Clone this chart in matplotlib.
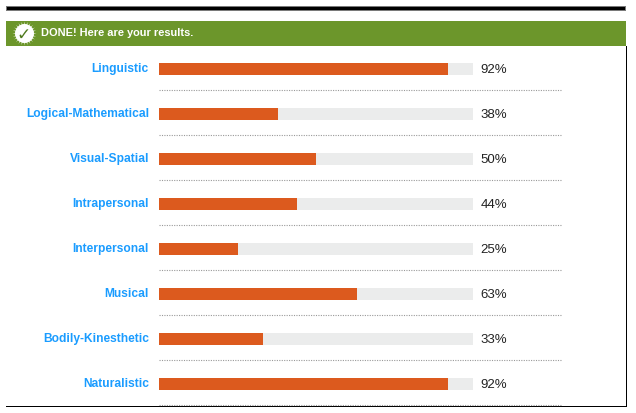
#!/usr/bin/env python3
import matplotlib
matplotlib.use('Agg')  # Use non-interactive backend
import matplotlib.pyplot as plt
from matplotlib.patches import Rectangle

categories = ['Linguistic', 'Logical-Mathematical', 'Visual-Spatial', 'Intrapersonal',
              'Interpersonal', 'Musical', 'Bodily-Kinesthetic', 'Naturalistic']
scores = [92, 38, 50, 44, 25, 63, 33, 92]
title = 'DONE! Here are your results.'

W, H = 636, 414
plt.rcParams['font.family'] = ['Liberation Sans', 'DejaVu Sans']


def px(size):
    # font size given in screen pixels
    return size * 72 / 100


def box(fig, x0, y0, x1, y1, color, **kw):
    # rectangle in picture pixels, y going down
    fig.add_artist(Rectangle((x0 / W, 1 - y1 / H), (x1 - x0) / W, (y1 - y0) / H,
                             transform=fig.transFigure, facecolor=color,
                             edgecolor='none', **kw))


fig = plt.figure(figsize=(W / 100, H / 100), dpi=100, facecolor='white')

# page frame
box(fig, 6, 7, 626, 12, '#7a7a7a')
box(fig, 7, 8, 625, 11, '#000000')
box(fig, 6, 22, 626, 47, '#6c962b')
box(fig, 625.5, 47, 627, 408, '#000000')
box(fig, 6, 406.5, 627, 408, '#000000')

# header badge and title
fig.text(41 / W, 1 - 33 / H, title, color='white', fontsize=px(11), fontweight='bold',
         va='center', ha='left', zorder=5)
badge = fig.add_axes([0, 0, 1, 1], facecolor='none', zorder=5)
badge.set_xlim(0, W)
badge.set_ylim(H, 0)
badge.axis('off')
badge.scatter([23.5], [34], s=px(24) ** 2, marker=(24, 1, 0), color='white', linewidths=0)
badge.scatter([23.5], [34], s=px(19) ** 2, marker='o', color='white', linewidths=0)
badge.text(23.5, 34.5, '\u2713', color='#4f7a1e', fontsize=px(17), fontweight='bold',
           family='DejaVu Sans', ha='center', va='center')

# bars
ax = fig.add_axes([159 / W, 1 - 407.5 / H, 314 / W, 360 / H], facecolor='none', zorder=6)
rows = list(range(len(categories)))
ax.barh(rows, [100] * len(rows), height=12 / 45, color='#ebecec', linewidth=0)
ax.barh(rows, scores, height=12 / 45, color='#dc5a1e', linewidth=0)
ax.set_xlim(0, 100)
ax.set_ylim(7.5, -0.5)
ax.axis('off')

for row, name, score in zip(rows, categories, scores):
    ax.annotate(name, (0, row), xytext=(-10, 1), textcoords='offset pixels',
                color='#1a9cff', fontsize=px(12), fontweight='bold',
                ha='right', va='center', annotation_clip=False)
    ax.annotate(f'{score}%', (100, row), xytext=(7.5, 0), textcoords='offset pixels',
                color='#222222', fontsize=px(13.2), ha='left', va='center',
                annotation_clip=False)
    # dotted row separator running past the track
    ax.plot([0, 128.3], [row + 0.47, row + 0.47], color='#999999', linewidth=0.8,
            linestyle=(0, (1, 1.2)), clip_on=False)

fig.savefig('out.png', dpi=100)
